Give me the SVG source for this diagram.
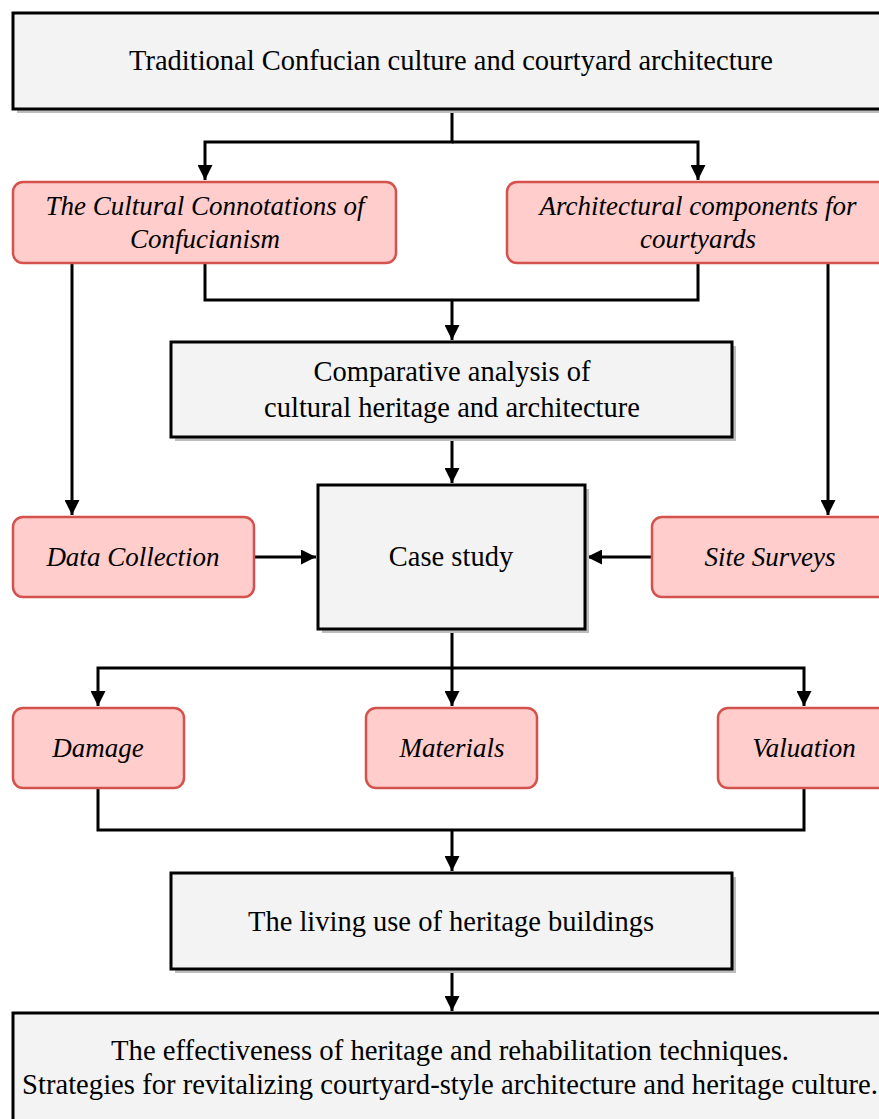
<svg xmlns="http://www.w3.org/2000/svg" width="879" height="1119" viewBox="0 0 879 1119">
<defs>
<style>
.g{fill:#f3f3f3;stroke:#000;stroke-width:3}
.sh{fill:#bdbdbd}
.p{fill:#ffcdcb;stroke:#d4524e;stroke-width:2.5}
.t{font-family:"Liberation Serif","Times New Roman",serif;font-size:28.5px;fill:#000;text-anchor:middle}
.i{font-style:italic;font-size:27px}
.c{fill:none;stroke:#000;stroke-width:3}
</style>
<marker id="a" markerWidth="5" markerHeight="5" refX="5" refY="2.5" orient="auto" markerUnits="strokeWidth">
<path d="M0,0 L5,2.5 L0,5 Z" fill="#000"/>
</marker>
</defs>
<rect width="879" height="1119" fill="#fff"/>
<g id="connectors" class="c">
<path d="M452,109 V142 H205 V180" marker-end="url(#a)"/>
<path d="M452,142 H698 V180" marker-end="url(#a)"/>
<path d="M205,263 V300 H698 V263"/>
<path d="M452,300 V340" marker-end="url(#a)"/>
<path d="M72,263 V515" marker-end="url(#a)"/>
<path d="M828,263 V515" marker-end="url(#a)"/>
<path d="M452,437 V483" marker-end="url(#a)"/>
<path d="M254,557 H316" marker-end="url(#a)"/>
<path d="M652,557 H587" marker-end="url(#a)"/>
<path d="M452,629 V668 H98 V706" marker-end="url(#a)"/>
<path d="M452,668 V706" marker-end="url(#a)"/>
<path d="M452,668 H804 V706" marker-end="url(#a)"/>
<path d="M98,788 V830 H804 V788"/>
<path d="M452,830 V871" marker-end="url(#a)"/>
<path d="M452,969 V1011" marker-end="url(#a)"/>
</g>
<g id="n1">
<rect class="sh" x="17" y="17" width="878" height="96"/>
<rect class="g" x="13" y="13" width="878" height="96"/>
<text class="t" x="451" y="70">Traditional Confucian culture and courtyard architecture</text>
</g>
<g id="n2">
<rect class="p" x="13" y="182" width="383" height="81" rx="10"/>
<text class="t i" x="205" y="215">The Cultural Connotations of</text>
<text class="t i" x="205" y="248">Confucianism</text>
</g>
<g id="n3">
<rect class="p" x="507" y="182" width="384" height="81" rx="10"/>
<text class="t i" x="698" y="215">Architectural components for</text>
<text class="t i" x="698" y="248">courtyards</text>
</g>
<g id="n4">
<rect class="sh" x="175" y="346" width="561" height="95"/>
<rect class="g" x="171" y="342" width="561" height="95"/>
<text class="t" x="452" y="381">Comparative analysis of</text>
<text class="t" x="452" y="417">cultural heritage and architecture</text>
</g>
<g id="n5">
<rect class="sh" x="322" y="489" width="267" height="144"/>
<rect class="g" x="318" y="485" width="267" height="144"/>
<text class="t" x="451" y="566">Case study</text>
</g>
<g id="n6">
<rect class="p" x="13" y="517" width="241" height="80" rx="10"/>
<text class="t i" x="133" y="566">Data Collection</text>
</g>
<g id="n7">
<rect class="p" x="652" y="517" width="239" height="80" rx="10"/>
<text class="t i" x="770" y="566">Site Surveys</text>
</g>
<g id="n8">
<rect class="p" x="13" y="708" width="171" height="80" rx="10"/>
<text class="t i" x="98" y="757">Damage</text>
</g>
<g id="n9">
<rect class="p" x="366" y="708" width="171" height="80" rx="10"/>
<text class="t i" x="452" y="757">Materials</text>
</g>
<g id="n10">
<rect class="p" x="718" y="708" width="173" height="80" rx="10"/>
<text class="t i" x="804" y="757">Valuation</text>
</g>
<g id="n11">
<rect class="sh" x="175" y="877" width="561" height="96"/>
<rect class="g" x="171" y="873" width="561" height="96"/>
<text class="t" x="451" y="931">The living use of heritage buildings</text>
</g>
<g id="n12">
<rect class="sh" x="17" y="1017" width="878" height="120"/>
<rect class="g" x="13" y="1013" width="878" height="120"/>
<text class="t" x="450" y="1060" textLength="678" lengthAdjust="spacingAndGlyphs">The effectiveness of heritage and rehabilitation techniques.</text>
<text class="t" x="450" y="1094" textLength="856" lengthAdjust="spacingAndGlyphs">Strategies for revitalizing courtyard-style architecture and heritage culture.</text>
</g>
</svg>
